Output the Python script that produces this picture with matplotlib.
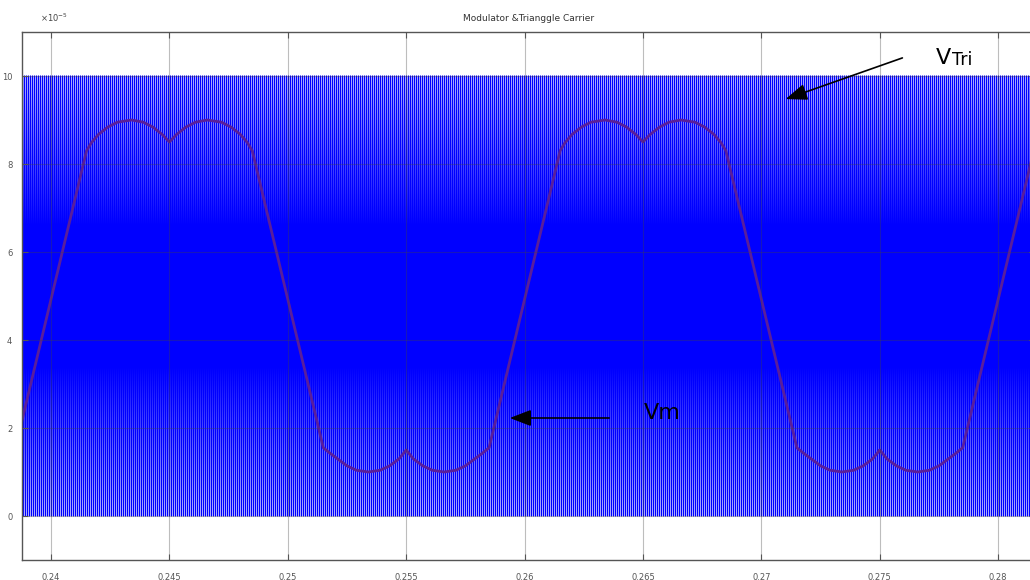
import numpy as np
import matplotlib
matplotlib.use("Agg")
import matplotlib.pyplot as plt

# modulator Vm: one period, centred on the upper dip (t = 0.245 s)
# offsets in ms, values in units of 1e-5
vm_offset_ms = [-10.0, -9.7, -9.3, -8.9, -8.4, -7.9, -7.5, -7.1, -6.8, -6.5,
                -3.5, -3.3, -3.0, -2.6, -2.2, -1.6, -1.1, -0.7, -0.3, 0.0,
                0.3, 0.7, 1.1, 1.6, 2.2, 2.6, 3.0, 3.3, 3.5,
                6.5, 6.8, 7.1, 7.5, 7.9, 8.4, 8.9, 9.3, 9.7, 10.0]
vm_value = [1.5, 1.3, 1.14, 1.04, 1.0, 1.04, 1.14, 1.3, 1.42, 1.55,
            8.3, 8.48, 8.67, 8.84, 8.95, 9.0, 8.95, 8.84, 8.67, 8.5,
            8.67, 8.84, 8.95, 9.0, 8.95, 8.84, 8.67, 8.48, 8.3,
            1.55, 1.42, 1.3, 1.14, 1.04, 1.0, 1.04, 1.14, 1.3, 1.5]
vm_centres = [0.225, 0.245, 0.265, 0.285]

# triangle carrier VTri
carrier_low_high = [0.0, 10.0]
carrier_freq = 11840.0
carrier_start = 0.2385
carrier_periods = 520

xticks = [0.24, 0.245, 0.25, 0.255, 0.26, 0.265, 0.27, 0.275, 0.28]
xtick_labels = ["0.24", "0.245", "0.25", "0.255", "0.26", "0.265", "0.27", "0.275", "0.28"]
yticks = [0, 2, 4, 6, 8, 10]

# build series
half = 0.5 / carrier_freq
tc = carrier_start + np.arange(2 * carrier_periods + 1) * half
vc = np.resize(carrier_low_high, tc.size)

tm = np.concatenate([c + np.array(vm_offset_ms) / 1000.0 for c in vm_centres])
vm = np.tile(vm_value, len(vm_centres))

fig = plt.figure(figsize=(10.3, 5.8), dpi=100)
ax = fig.add_axes([22 / 1030, 1 - 560 / 580, 1013 / 1030, 528 / 580])

ax.plot(tc, vc, color="#0000ff", lw=0.95)
ax.plot(tm, vm, color="#5a1e9a", lw=2.0)

ax.set_xlim(0.238775, 0.281555)
ax.set_ylim(-1, 11)
ax.set_xticks(xticks)
ax.set_xticklabels(xtick_labels)
ax.set_yticks(yticks)
ax.tick_params(direction="in", labelsize=6, colors="#555555", length=4,
               top=True, right=True)
ax.tick_params(axis="x", pad=9)
ax.tick_params(axis="y", pad=7)
ax.grid(True, color="#444444", alpha=0.35, lw=0.8)
ax.set_axisbelow(False)
for s in ax.spines.values():
    s.set_color("#555555")
    s.set_linewidth(1.0)

ax.set_title("Modulator &Trianggle Carrier", fontsize=6.5, color="#333333", pad=8)
fig.text(40 / 1030, 1 - 22 / 580, r"$\times10^{-5}$", fontsize=6, color="#444444")

# annotations
ax.annotate("", xy=(783, 480), xycoords="figure pixels",
            xytext=(905, 523), textcoords="figure pixels",
            arrowprops=dict(arrowstyle="-|>,head_length=1.3,head_width=0.5",
                            color="black", lw=1.2))
fig.text(936, 522, "V", fontsize=16, va="center", transform=None)
fig.text(952, 520, "Tri", fontsize=12.5, va="center", transform=None)

ax.annotate("", xy=(507, 162), xycoords="figure pixels",
            xytext=(612, 162), textcoords="figure pixels",
            arrowprops=dict(arrowstyle="-|>,head_length=1.3,head_width=0.5",
                            color="black", lw=1.2))
fig.text(644, 167, "Vm", fontsize=16, va="center", transform=None)

fig.savefig("out.png", dpi=100)
